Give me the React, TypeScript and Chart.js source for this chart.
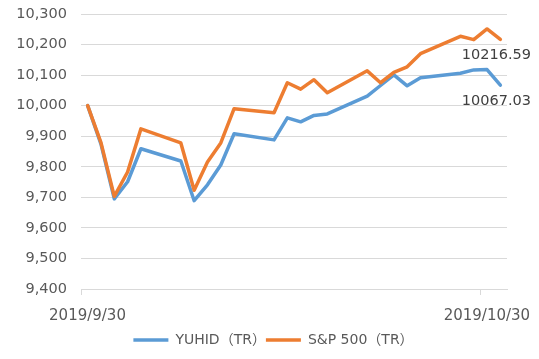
import React, { useEffect, useRef } from "react";
import { Chart, registerables } from "chart.js";

Chart.register(...registerables);

const startDate = "2019/9/30";
const dates = [
  "2019/9/30", "2019/10/1", "2019/10/2", "2019/10/3", "2019/10/4",
  "2019/10/7", "2019/10/8", "2019/10/9", "2019/10/10", "2019/10/11",
  "2019/10/14", "2019/10/15", "2019/10/16", "2019/10/17", "2019/10/18",
  "2019/10/21", "2019/10/22", "2019/10/23", "2019/10/24", "2019/10/25",
  "2019/10/28", "2019/10/29", "2019/10/30", "2019/10/31",
];
const yuhid = [
  10000, 9874, 9695, 9751, 9859,
  9819, 9689, 9741, 9806, 9908,
  9888, 9960, 9947, 9968, 9973,
  10031, 10066, 10101, 10065, 10091,
  10106, 10117, 10118, 10067.03,
];
const sp500 = [
  10000, 9879, 9703, 9783, 9924,
  9878, 9723, 9816, 9878, 9990,
  9977, 10075, 10054, 10085, 10042,
  10114, 10075, 10109, 10127, 10170,
  10227, 10216, 10251, 10216.59,
];
const seriesNames = ["YUHID（TR）", "S&P 500（TR）"];
const xTickLabels = ["2019/9/30", "2019/10/30"];
const xAxisEnd = "2019/11/1";
const yMin = 9400;
const yMax = 10300;
const yStep = 100;

const DAY = 86400000;
const parse = (s: string) => {
  const [y, m, d] = s.split("/").map(Number);
  return Date.UTC(y, m - 1, d);
};
const dayIndex = (s: string) => Math.round((parse(s) - parse(startDate)) / DAY);

const BLUE = "#5B9BD5";
const ORANGE = "#ED7D31";
const GRID = "#D9D9D9";
const TEXT = "#595959";
const FONT = "'DejaVu Sans', 'Noto Sans CJK JP', sans-serif";

export default function App() {
  const ref = useRef<HTMLCanvasElement | null>(null);
  useEffect(() => {
    if (!ref.current) return;
    const toPts = (vals: number[]) =>
      vals.map((v, i) => ({ x: dayIndex(dates[i]) + 0.5, y: v }));
    const tickValues = xTickLabels.map(dayIndex);

    const lastLabel = {
      id: "lastLabel",
      afterDatasetsDraw(chart: any) {
        const ctx = chart.ctx;
        ctx.save();
        ctx.font = `14.5px ${FONT}`;
        ctx.fillStyle = "#404040";
        ctx.textAlign = "center";
        ctx.textBaseline = "middle";
        chart.data.datasets.forEach((ds: any, i: number) => {
          const meta = chart.getDatasetMeta(i);
          const pt = meta.data[meta.data.length - 1];
          const v = ds.data[ds.data.length - 1].y;
          ctx.fillText(v.toFixed(2), pt.x - 4, pt.y + 16);
        });
        ctx.restore();
      },
    };

    const lineDs = (label: string, vals: number[], color: string, order: number) => ({
      label,
      data: toPts(vals),
      borderColor: color,
      backgroundColor: color,
      borderWidth: 3.5,
      pointRadius: 0,
      tension: 0,
      borderJoinStyle: "round",
      borderCapStyle: "round",
      order,
    });

    const chart = new Chart(ref.current, {
      type: "line",
      data: {
        datasets: [
          lineDs(seriesNames[0], yuhid, BLUE, 2),
          lineDs(seriesNames[1], sp500, ORANGE, 1),
        ] as any,
      },
      options: {
        responsive: false,
        animation: false,
        devicePixelRatio: 1,
        layout: { padding: { top: 14, right: 0, bottom: 2, left: 8 } },
        plugins: {
          tooltip: { enabled: false },
          legend: {
            position: "bottom",
            labels: {
              usePointStyle: true,
              pointStyle: "line",
              pointStyleWidth: 35,
              boxHeight: 4,
              padding: 0,
              color: TEXT,
              font: { size: 14, family: FONT },
              sort: (a: any, b: any) => a.datasetIndex - b.datasetIndex,
            },
          },
        },
        scales: {
          x: {
            type: "linear",
            min: 0,
            max: dayIndex(xAxisEnd),
            afterBuildTicks: (s: any) => {
              s.ticks = tickValues.map((v) => ({ value: v }));
            },
            afterFit: (s: any) => {
              s.height = 44;
              s.paddingLeft = 0;
              s.paddingRight = 32;
            },
            ticks: {
              autoSkip: false,
              maxRotation: 0,
              labelOffset: 6.5,
              padding: 12,
              color: TEXT,
              font: { size: 15, family: FONT },
              callback: (v: any) => {
                const i = tickValues.indexOf(Number(v));
                return i >= 0 ? xTickLabels[i] : "";
              },
            },
            grid: {
              drawOnChartArea: false,
              drawTicks: true,
              tickLength: 6,
              color: GRID,
            },
            border: { display: true, color: GRID },
          },
          y: {
            min: yMin,
            max: yMax,
            afterFit: (s: any) => {
              s.width = 73;
              s.paddingTop = 0;
              s.paddingBottom = 0;
            },
            ticks: {
              stepSize: yStep,
              padding: 14,
              color: TEXT,
              font: { size: 14.5, family: FONT },
              callback: (v: any) => Number(v).toLocaleString("en-US"),
            },
            grid: { color: GRID, drawTicks: false },
            border: { display: false },
          },
        },
      },
      plugins: [lastLabel],
    });
    return () => chart.destroy();
  }, []);

  return (
    <div style={{ position: "absolute", left: 0, top: 0, width: 539, height: 359, background: "#fff" }}>
      <canvas ref={ref} width={539} height={359} />
    </div>
  );
}
